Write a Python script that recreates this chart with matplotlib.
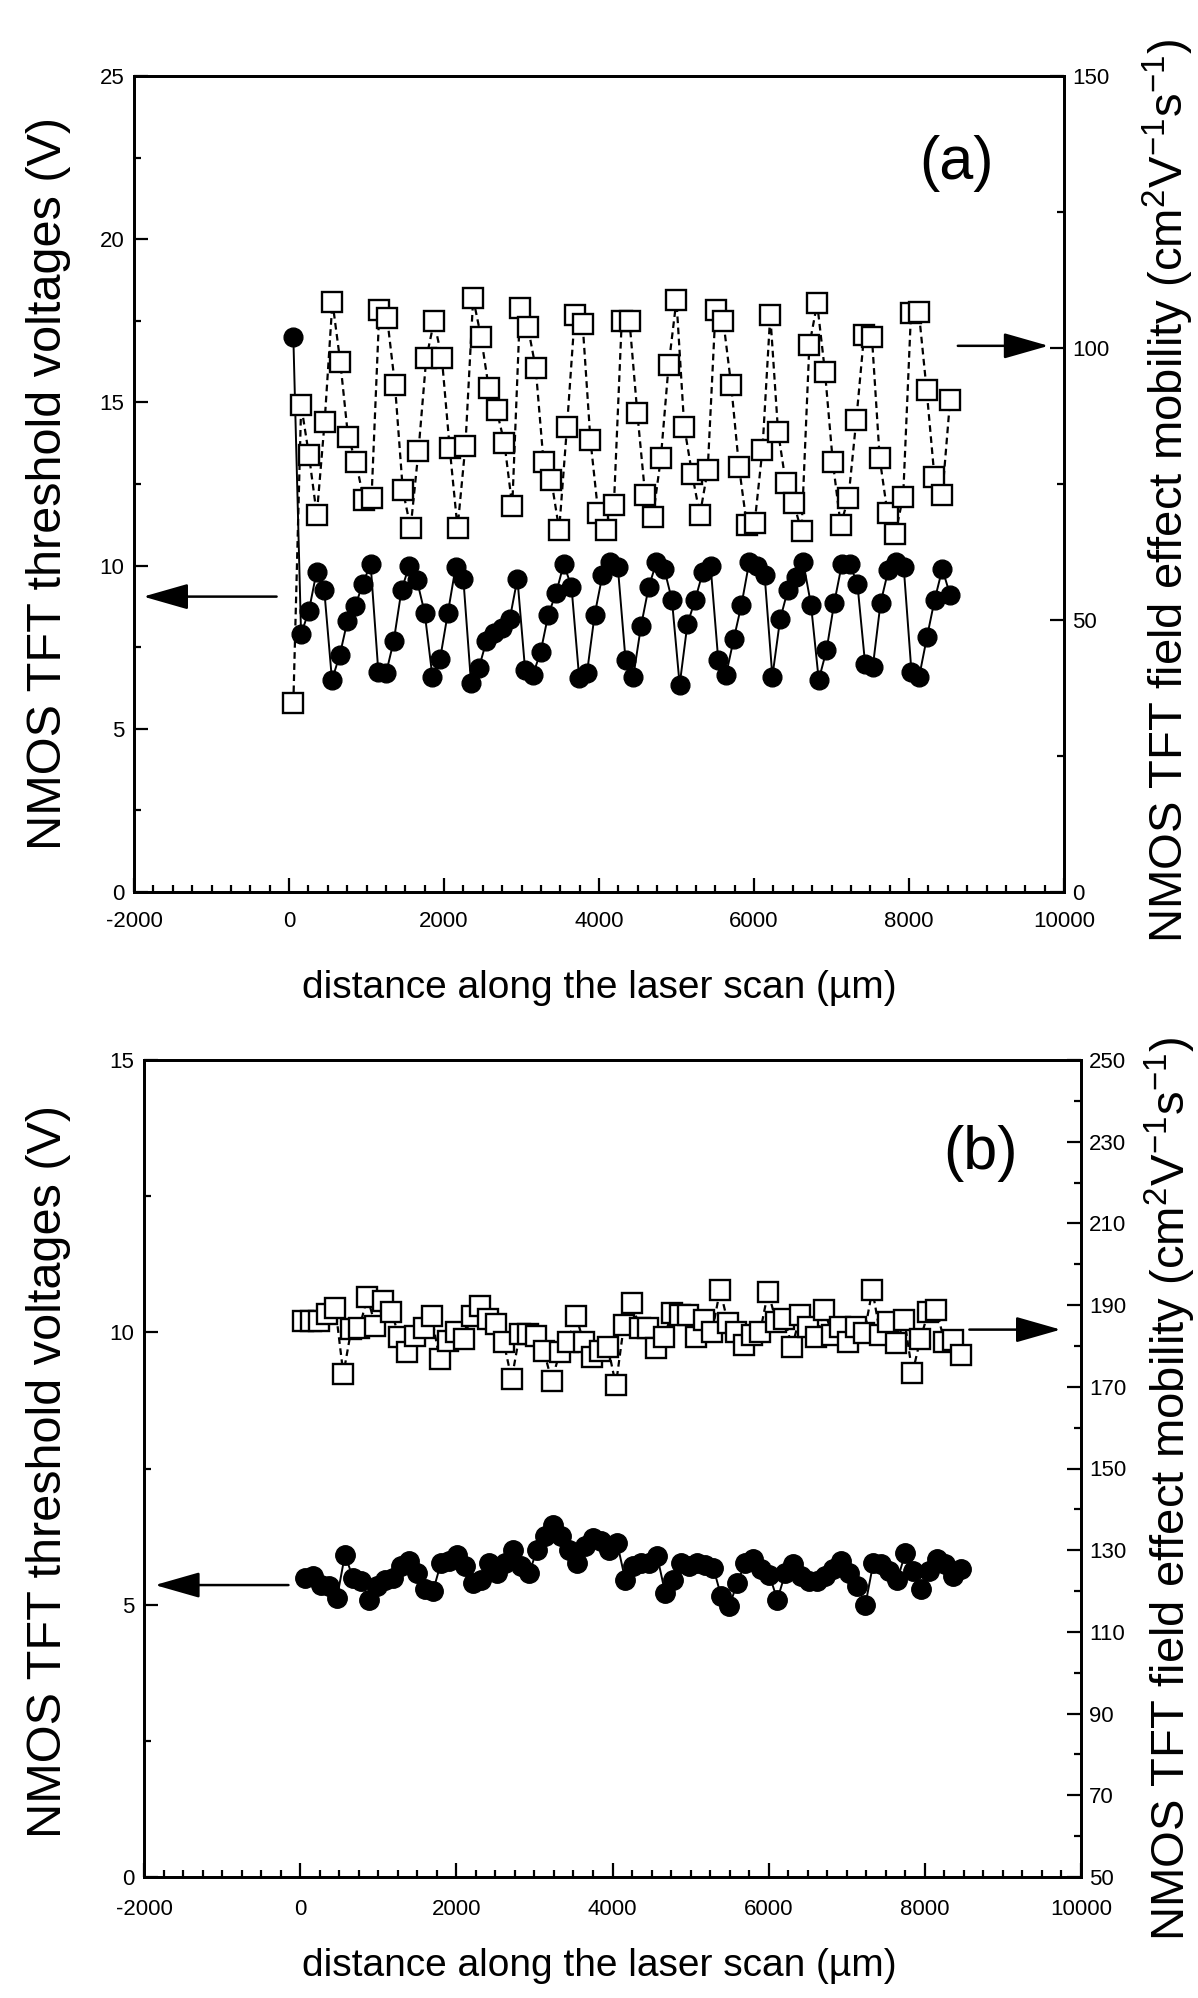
import numpy as np
import matplotlib.pyplot as plt
from matplotlib.ticker import MultipleLocator

plt.rcParams['font.family'] = ['Liberation Sans', 'DejaVu Sans']
plt.rcParams['mathtext.fontset'] = 'custom'
plt.rcParams['mathtext.rm'] = 'Liberation Sans'
plt.rcParams['mathtext.it'] = 'Liberation Sans'
plt.rcParams['axes.unicode_minus'] = False

# ---- panel (a): threshold voltage (V) and mobility (cm2/Vs) ----
a_vth = [17.0, 7.9, 8.6, 9.8, 9.25, 6.5, 7.25, 8.3, 8.75, 9.45,
         10.05, 6.75, 6.7, 7.7, 9.25, 10.0, 9.55, 8.55, 6.6, 7.15,
         8.55, 9.95, 9.6, 6.4, 6.85, 7.7, 7.95, 8.1, 8.35, 9.6,
         6.8, 6.65, 7.35, 8.5, 9.15, 10.05, 9.35, 6.55, 6.7, 8.5,
         9.7, 10.1, 9.95, 7.1, 6.6, 8.15, 9.35, 10.1, 9.9, 8.95,
         6.35, 8.2, 8.95, 9.8, 10.0, 7.1, 6.65, 7.75, 8.8, 10.1,
         10.0, 9.7, 6.6, 8.35, 9.25, 9.65, 10.1, 8.8, 6.5, 7.4,
         8.85, 10.05, 10.05, 9.45, 7.0, 6.9, 8.85, 9.85, 10.1, 9.95,
         6.75, 6.6, 7.8, 8.95, 9.9, 9.1]
a_mob = [34.7, 89.5, 80.3, 69.3, 86.4, 108.5, 97.5, 83.7, 79.1, 72.1,
         72.4, 107.0, 105.5, 93.2, 73.9, 66.9, 81.0, 98.1, 104.9, 98.1,
         81.6, 66.9, 81.9, 109.1, 102.1, 92.6, 88.6, 82.5, 70.9, 107.3,
         103.9, 96.3, 79.1, 75.7, 66.6, 85.5, 106.1, 104.5, 83.1, 69.6,
         66.6, 71.1, 104.9, 104.9, 88.0, 73.0, 69.0, 79.7, 96.8, 108.8,
         85.5, 76.9, 69.3, 77.6, 107.0, 104.9, 93.2, 78.2, 67.5, 67.8,
         81.3, 106.1, 84.6, 75.1, 71.5, 66.3, 100.5, 108.2, 95.6, 79.1,
         67.5, 72.4, 86.7, 102.4, 102.1, 79.7, 69.6, 65.9, 72.7, 106.4,
         106.7, 92.3, 76.3, 73.0, 90.4]
a_x_vth = np.linspace(56, 8530, len(a_vth))
a_x_mob = np.linspace(56, 8530, len(a_mob))

# ---- panel (b) ----
b_vth = [5.49, 5.52, 5.37, 5.34, 5.12, 5.92, 5.49, 5.43, 5.09, 5.34,
         5.46, 5.49, 5.71, 5.80, 5.58, 5.28, 5.25, 5.77, 5.80, 5.92,
         5.71, 5.40, 5.46, 5.77, 5.58, 5.77, 6.01, 5.71, 5.58, 6.01,
         6.26, 6.47, 6.26, 6.01, 5.77, 6.07, 6.23, 6.17, 6.01, 6.13,
         5.46, 5.71, 5.77, 5.77, 5.89, 5.21, 5.45, 5.77, 5.71, 5.77,
         5.72, 5.68, 5.15, 4.97, 5.40, 5.77, 5.83, 5.65, 5.55, 5.09,
         5.58, 5.74, 5.52, 5.43, 5.43, 5.52, 5.65, 5.80, 5.58, 5.34,
         5.00, 5.77, 5.74, 5.61, 5.46, 5.95, 5.61, 5.28, 5.61, 5.83,
         5.74, 5.52, 5.65]
b_mob = [186.2, 186.2, 186.2, 187.8, 189.4, 173.1, 184.2, 184.5, 191.9, 184.9,
         191.1, 188.2, 182.1, 178.4, 182.5, 184.5, 187.4, 176.8, 181.3, 183.3,
         181.7, 187.4, 189.9, 186.5, 185.3, 180.9, 171.9, 182.9, 182.9, 182.5,
         178.8, 171.5, 178.4, 180.9, 187.4, 180.9, 177.2, 178.8, 179.8, 170.4,
         185.1, 190.4, 184.3, 184.3, 179.4, 182.2, 188.0, 187.6, 187.6, 182.2,
         186.3, 183.5, 193.7, 185.5, 183.5, 180.2, 182.7, 183.5, 193.3, 185.9,
         186.7, 179.8, 187.6, 184.7, 182.2, 188.8, 182.7, 184.7, 181.0, 184.7,
         183.1, 193.7, 182.7, 185.9, 180.6, 186.3, 173.3, 181.8, 188.4, 188.8,
         181.0, 181.4, 177.8]
b_x_vth = np.linspace(61, 8469, len(b_vth))
b_x_mob = np.linspace(40, 8457, len(b_mob))

xlabel = "distance along the laser scan (\u00b5m)"
ylabel_l = "NMOS TFT threshold voltages (V)"
ylabel_r = "NMOS TFT field effect mobility (cm$^{2}$V$^{-1}$s$^{-1}$)"

W, H = 1198, 1998
fig = plt.figure(figsize=(W / 100, H / 100), dpi=100)


def px(x, y):
    # figure fraction from pixel position (top-left origin)
    return x / W, 1 - y / H


def panel(rect, xv, vth, xm, mob, ylim_l, ylim_r, lticks, rticks, rminor,
          tick_size, xpad, arrow_l, arrow_r, tag, tag_pos, ms_c, ms_s):
    ax = fig.add_axes(rect)
    ax2 = ax.twinx()
    ax.plot(xv, vth, '-', color='k', lw=1.4, marker='o', ms=ms_c,
            mfc='k', mec='k', zorder=3)
    ax2.plot(xm, mob, color='k', lw=1.6, ls=(0, (3, 2)), marker='s',
             ms=ms_s, mfc='white', mec='k', mew=1.7)
    ax.set_xlim(-2000, 10000)
    ax.set_ylim(*ylim_l)
    ax2.set_ylim(*ylim_r)
    ax.set_xticks(range(-2000, 10001, 2000))
    ax.xaxis.set_minor_locator(MultipleLocator(250))
    ax.set_yticks(lticks)
    ax.yaxis.set_minor_locator(MultipleLocator(2.5))
    ax2.set_yticks(rticks)
    ax2.yaxis.set_minor_locator(MultipleLocator(rminor))
    for a in (ax, ax2):
        for s in a.spines.values():
            s.set_linewidth(2)
    ax.tick_params(which='both', direction='in', top=False, right=False,
                   width=1.6, labelsize=tick_size)
    ax.tick_params(which='major', length=10)
    ax.tick_params(which='minor', length=5)
    ax.tick_params(axis='x', pad=xpad)
    ax.tick_params(axis='y', pad=7)
    ax2.tick_params(which='both', direction='in', width=1.6, labelsize=tick_size)
    ax2.tick_params(which='major', length=10, pad=6)
    ax2.tick_params(which='minor', length=5)
    ax.annotate('', xy=(arrow_l[1], arrow_l[2]), xytext=(arrow_l[0], arrow_l[2]),
                arrowprops=dict(arrowstyle='-|>,head_length=1.4,head_width=0.4',
                                color='k', lw=1.8, mutation_scale=20,
                                shrinkA=0, shrinkB=0))
    ax2.annotate('', xy=(arrow_r[1], arrow_r[2]), xytext=(arrow_r[0], arrow_r[2]),
                 arrowprops=dict(arrowstyle='-|>,head_length=1.4,head_width=0.4',
                                 color='k', lw=1.8, mutation_scale=20,
                                 shrinkA=0, shrinkB=0))
    ax.text(tag_pos[0], tag_pos[1], tag, transform=ax.transAxes,
            fontsize=44, ha='center', va='center')
    return ax, ax2


ax_a, ax_a2 = panel([134 / W, 1 - 892 / H, 930 / W, 816 / H],
                    a_x_vth, a_vth, a_x_mob, a_mob, (0, 25), (0, 150),
                    range(0, 26, 5), range(0, 151, 50), 25, 16, 14,
                    (-160, -1880, 9.05), (8630, 9800, 100.4),
                    '(a)', (0.884, 0.893), 13.5, 14)
fig.text(*px(599, 988), xlabel, fontsize=28, ha='center', va='center')
fig.text(*px(49, 484), ylabel_l, fontsize=35, rotation=90,
         ha='center', va='center')
fig.text(*px(1168, 491), ylabel_r, fontsize=34, rotation=90,
         ha='center', va='center')

ax_b, ax_b2 = panel([144 / W, 1 - 1877 / H, 937 / W, 817 / H],
                    b_x_vth, b_vth, b_x_mob, b_mob, (0, 15), (50, 250),
                    range(0, 16, 5), range(50, 251, 20), 10, 16, 16,
                    (-150, -1860, 5.36), (8570, 9740, 184.0),
                    '(b)', (0.893, 0.886), 14, 14)
fig.text(*px(599, 1966), xlabel, fontsize=28, ha='center', va='center')
fig.text(*px(49, 1472), ylabel_l, fontsize=35, rotation=90,
         ha='center', va='center')
fig.text(*px(1170, 1489), ylabel_r, fontsize=34, rotation=90,
         ha='center', va='center')

fig.savefig('out.png', dpi=100)
